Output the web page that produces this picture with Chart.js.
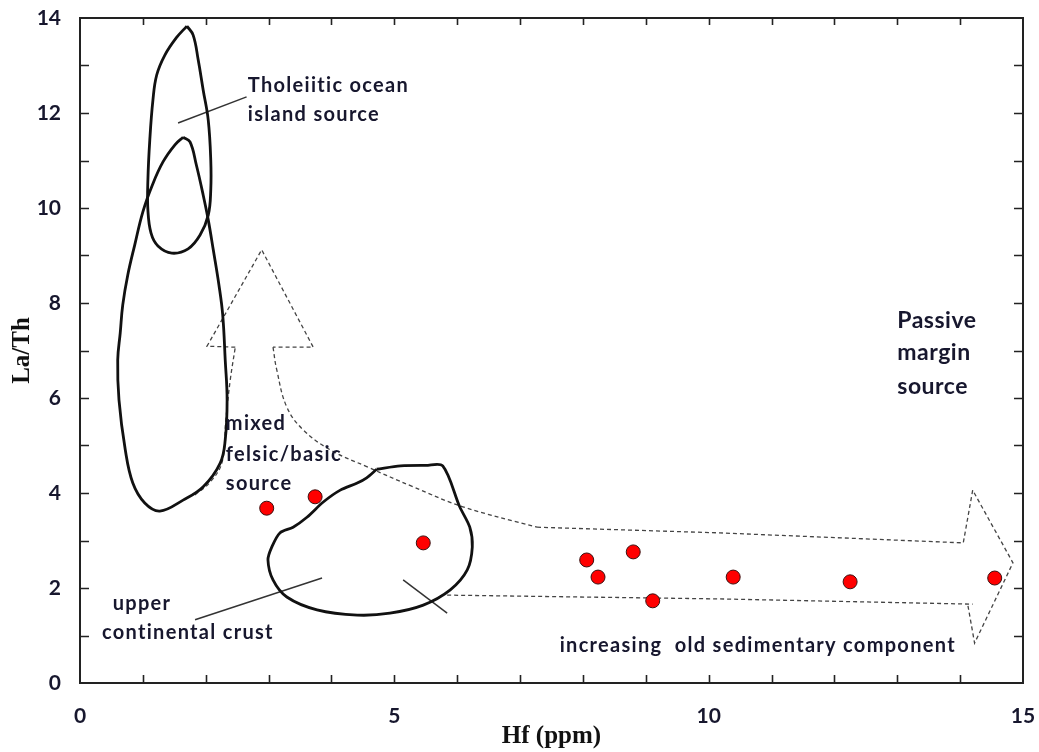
<!DOCTYPE html>
<html>
<head>
<meta charset="utf-8">
<script src="https://cdn.jsdelivr.net/npm/chart.js@4/dist/chart.umd.min.js"></script>
<style>
  html, body { margin: 0; padding: 0; background: #fff; }
  #wrap { width: 1039px; height: 752px; position: relative; }
</style>
</head>
<body>
<div id="wrap"><canvas id="chart"></canvas></div>
<script>
// samples: Hf (ppm) against La/Th
const hfValues = [2.97, 3.74, 5.46, 8.06, 8.24, 8.80, 9.11, 10.39, 12.25, 14.55];
const laThValues = [3.68, 3.92, 2.95, 2.59, 2.23, 2.76, 1.73, 2.23, 2.13, 2.21];

// field outlines as [Hf, La/Th]
const oceanIslandField = [
  [1.70, 13.83], [1.80, 13.64], [1.88, 13.12], [1.96, 12.48], [2.04, 11.85],
  [2.08, 11.01], [2.08, 10.38], [2.04, 9.85], [1.91, 9.43], [1.72, 9.14],
  [1.46, 9.05], [1.24, 9.20], [1.13, 9.47], [1.08, 9.96], [1.08, 10.59],
  [1.11, 11.43], [1.16, 12.27], [1.22, 12.80], [1.35, 13.22], [1.53, 13.58],
  [1.70, 13.83]
];
const mixedField = [
  [1.64, 11.49], [1.75, 11.39], [1.85, 10.91], [1.96, 10.27], [2.04, 9.75],
  [2.12, 9.12], [2.21, 8.38], [2.27, 7.75], [2.31, 6.80], [2.34, 5.96],
  [2.31, 5.12], [2.23, 4.63], [1.96, 4.13], [1.64, 3.85], [1.27, 3.62],
  [1.03, 3.79], [0.84, 4.21], [0.72, 4.91], [0.62, 5.96], [0.60, 6.80],
  [0.64, 7.37], [0.68, 7.96], [0.76, 8.59], [0.87, 9.22], [1.00, 9.92],
  [1.15, 10.48], [1.32, 10.97], [1.51, 11.33], [1.64, 11.49]
];
const upperCrustField = [
  [4.72, 4.50], [5.10, 4.57], [5.50, 4.58], [5.77, 4.57], [6.04, 3.71], [6.20, 3.28],
  [6.24, 2.86], [6.16, 2.38], [5.89, 1.96], [5.46, 1.64], [4.93, 1.47],
  [4.41, 1.43], [3.77, 1.54], [3.29, 1.81], [3.07, 2.17], [2.99, 2.59],
  [3.05, 2.86], [3.18, 3.16], [3.39, 3.28], [3.61, 3.49], [3.87, 3.81],
  [4.14, 4.06], [4.41, 4.21], [4.56, 4.32], [4.72, 4.50]
];

// dashed trend arrows
const upShaftLeft = [[1.83, 3.96], [2.07, 4.23], [2.26, 4.65], [2.32, 5.54], [2.39, 6.38], [2.47, 7.07]];
const upHead = [[2.47, 7.07], [2.02, 7.09], [2.89, 9.12], [3.71, 7.07], [3.07, 7.07]];
const bendShaft = [[3.07, 7.07], [3.13, 6.59], [3.29, 5.81], [3.55, 5.33], [3.98, 4.91],
  [4.57, 4.55], [5.30, 4.13], [6.09, 3.71], [7.27, 3.28]];
const rightArrowTop = [[7.27, 3.28], [10.18, 3.16], [14.05, 2.95], [14.20, 4.06],
  [14.84, 2.53], [14.23, 0.84], [14.12, 1.66]];
const rightArrowBottom = [[5.84, 1.85], [10.18, 1.77], [14.20, 1.66]];

// label leader lines
const oceanLeader = [[1.56, 11.79], [2.65, 12.34]];
const crustLeader = [[1.83, 1.33], [3.85, 2.21]];
const shortLeader = [[5.14, 2.17], [5.84, 1.47]];

const fieldLabels = [
  { text: "Tholeiitic ocean", x: 2.67, y: 12.57 },
  { text: "island source", x: 2.67, y: 11.96 },
  { text: "mixed", x: 2.32, y: 5.47 },
  { text: "felsic/basic", x: 2.32, y: 4.82 },
  { text: "source", x: 2.32, y: 4.19 },
  { text: "upper", x: 0.52, y: 1.68 },
  { text: "continental crust", x: 0.35, y: 1.07 },
  { text: "increasing  old sedimentary component", x: 7.63, y: 0.78 }
];
const passiveLabels = [
  { text: "Passive", x: 13.0, y: 7.64 },
  { text: "margin", x: 13.0, y: 6.95 },
  { text: "source", x: 13.0, y: 6.23 }
];

const textColor = "#17172e";

function toPts(arr) {
  return arr.map(([x, y]) => ({ x, y }));
}

function outline(points, extra) {
  return Object.assign(
    {
      data: toPts(points),
      showLine: true,
      pointRadius: 0,
      borderColor: "#111",
      borderWidth: 2.8,
      tension: 0.4,
      fill: false,
    },
    extra
  );
}

const dashed = { borderColor: "#444", borderWidth: 1.3, borderDash: [4, 3] };

// frame with inward ticks on all four sides, plus field names
const framePlugin = {
  id: "frame",
  afterDatasetsDraw(chart) {
    const { ctx, chartArea: a, scales } = chart;
    ctx.save();
    ctx.strokeStyle = "#222";
    ctx.lineWidth = 1.6;
    ctx.beginPath();
    scales.x.ticks.forEach((t) => {
      if (t.value <= 0 || t.value >= 15) return;
      const px = Math.round(scales.x.getPixelForValue(t.value)) + 0.5;
      ctx.moveTo(px, a.bottom);
      ctx.lineTo(px, a.bottom - 8);
      ctx.moveTo(px, a.top);
      ctx.lineTo(px, a.top + 7);
    });
    scales.y.ticks.forEach((t) => {
      if (t.value <= 0 || t.value >= 14) return;
      const py = Math.round(scales.y.getPixelForValue(t.value)) + 0.5;
      ctx.moveTo(a.left, py);
      ctx.lineTo(a.left + 9, py);
      ctx.moveTo(a.right, py);
      ctx.lineTo(a.right - 9, py);
    });
    ctx.stroke();
    ctx.lineWidth = 2;
    ctx.strokeRect(a.left, a.top, a.right - a.left, a.bottom - a.top);

    ctx.fillStyle = textColor;
    ctx.textAlign = "left";
    ctx.textBaseline = "middle";
    ctx.font = "bold 20px Lato";
    ctx.letterSpacing = "1.3px";
    fieldLabels.forEach((l) => {
      ctx.fillText(l.text, scales.x.getPixelForValue(l.x), scales.y.getPixelForValue(l.y));
    });
    ctx.font = "bold 23px Lato";
    ctx.letterSpacing = "0.5px";
    passiveLabels.forEach((l) => {
      ctx.fillText(l.text, scales.x.getPixelForValue(l.x), scales.y.getPixelForValue(l.y));
    });
    ctx.restore();
  },
};

// invisible tick marks push the labels away from the axis
// without making the layout reserve extra room at the ends
const hiddenTicks = (len) => ({
  display: true,
  drawOnChartArea: false,
  drawTicks: true,
  tickLength: len,
  tickColor: "rgba(0,0,0,0)",
  color: "rgba(0,0,0,0)",
});

window.onload = function () {
  const ctx = document.getElementById("chart").getContext("2d");
  new Chart(ctx, {
    type: "scatter",
    data: {
      datasets: [
        {
          label: "samples",
          data: hfValues.map((x, i) => ({ x, y: laThValues[i] })),
          pointRadius: 7,
          pointHoverRadius: 7,
          pointBackgroundColor: "#ff0000",
          pointBorderColor: "#3a1010",
          pointBorderWidth: 1,
        },
        outline(oceanIslandField),
        outline(mixedField),
        outline(upperCrustField, { tension: 0.3 }),
        outline(upShaftLeft, dashed),
        outline(upHead, Object.assign({ tension: 0 }, dashed)),
        outline(bendShaft, dashed),
        outline(rightArrowTop, Object.assign({ tension: 0 }, dashed)),
        outline(rightArrowBottom, Object.assign({ tension: 0 }, dashed)),
        outline(oceanLeader, { tension: 0, borderWidth: 1.5, borderColor: "#333" }),
        outline(crustLeader, { tension: 0, borderWidth: 1.5, borderColor: "#333" }),
        outline(shortLeader, { tension: 0, borderWidth: 1.5, borderColor: "#333" }),
      ],
    },
    options: {
      responsive: true,
      maintainAspectRatio: false,
      animation: false,
      layout: { padding: { top: 18, right: 16, left: 0, bottom: 0 } },
      plugins: { legend: { display: false }, tooltip: { enabled: false } },
      scales: {
        x: {
          type: "linear",
          min: 0,
          max: 15,
          grid: hiddenTicks(21),
          border: { display: false },
          ticks: {
            stepSize: 1,
            autoSkip: false,
            maxRotation: 0,
            padding: 0,
            color: textColor,
            font: { family: "Lato", weight: "bold", size: 21 },
            callback: (v) => (v % 5 === 0 ? v : ""),
          },
          title: {
            display: true,
            text: "Hf (ppm)",
            color: "#111",
            font: { family: "Liberation Serif", weight: "bold", size: 25 },
            padding: { top: 0, bottom: 0 },
          },
          afterFit: (s) => { s.height = 69; },
        },
        y: {
          type: "linear",
          min: 0,
          max: 14,
          grid: hiddenTicks(19),
          border: { display: false },
          ticks: {
            stepSize: 1,
            autoSkip: false,
            padding: 0,
            color: textColor,
            font: { family: "Lato", weight: "bold", size: 21 },
            callback: (v) => (v % 2 === 0 ? v : ""),
          },
          title: {
            display: true,
            text: "La/Th",
            color: "#111",
            font: { family: "Liberation Serif", weight: "bold", size: 25 },
            padding: { top: 8, bottom: 0 },
          },
          afterFit: (s) => { s.width = 80; },
        },
      },
    },
    plugins: [framePlugin],
  });
};
</script>
</body>
</html>
